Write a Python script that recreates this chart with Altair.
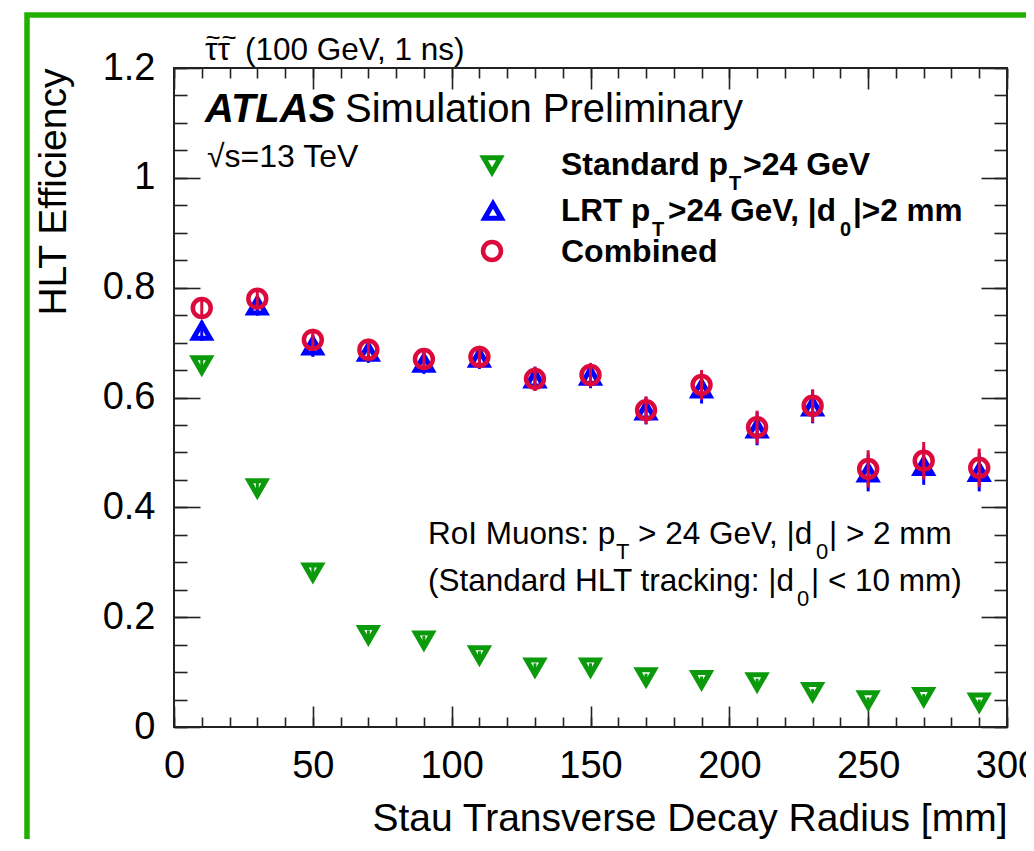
import altair as alt
import pandas as pd

# ---- data ----
radius = [10, 30, 50, 70, 90, 110, 130, 150, 170, 190, 210, 230, 250, 270, 290]
std_eff = [0.659, 0.435, 0.282, 0.168, 0.158, 0.131, 0.109, 0.109, 0.091, 0.086, 0.082, 0.064, 0.049, 0.055, 0.045]
std_err = [0.012, 0.012, 0.010, 0.008, 0.008, 0.007, 0.007, 0.007, 0.006, 0.006, 0.006, 0.005, 0.005, 0.005, 0.005]
lrt_eff = [0.721, 0.767, 0.694, 0.683, 0.663, 0.672, 0.634, 0.639, 0.576, 0.616, 0.543, 0.583, 0.463, 0.475, 0.464]
lrt_err = [0.018, 0.018, 0.020, 0.020, 0.020, 0.020, 0.022, 0.022, 0.025, 0.027, 0.030, 0.030, 0.034, 0.034, 0.035]
comb_eff = [0.763, 0.780, 0.705, 0.687, 0.670, 0.674, 0.634, 0.641, 0.577, 0.623, 0.546, 0.585, 0.470, 0.485, 0.472]
comb_err = [0.018, 0.018, 0.020, 0.020, 0.020, 0.020, 0.022, 0.022, 0.025, 0.027, 0.030, 0.030, 0.034, 0.034, 0.035]

x_major = [0, 50, 100, 150, 200, 250, 300]
x_minor = list(range(0, 301, 10))
y_major = [0, 0.2, 0.4, 0.6, 0.8, 1.0, 1.2]
y_minor = [round(i * 0.05, 2) for i in range(25)]

GREEN = "#0b9a0b"
BLUE = "#0000ff"
RED = "#dc0a3c"
FONT = "Liberation Sans"

W, H = 833, 659
TRI = 280
CIRC = 320
SW_TRI = 5
SW_CIRC = 4.5


def frame(eff, err):
    return pd.DataFrame({
        "r": radius,
        "eff": eff,
        "lo": [e - d for e, d in zip(eff, err)],
        "hi": [e + d for e, d in zip(eff, err)],
    })


d_std = frame(std_eff, std_err)
d_lrt = frame(lrt_eff, lrt_err)
d_comb = frame(comb_eff, comb_err)
one = pd.DataFrame({"k": [0]})

xs = alt.Scale(domain=[0, 300], nice=False, zero=False)
ys = alt.Scale(domain=[0, 1.2], nice=False, zero=False)

common = dict(domain=False, grid=False)

ax_x_main = alt.Axis(orient="bottom", values=x_major, tickSize=21, offset=-21,
                     labelFontSize=38, labelPadding=20, labelFlush=False,
                     labelOverlap=False, labelColor="black", labelFont=FONT,
                     title="Stau Transverse Decay Radius [mm]", titleFontSize=39,
                     titleFont=FONT, titleFontWeight="normal", titleColor="black",
                     titleX=W, titleY=124, titleAlign="right", titleAnchor="end",
                     titleBaseline="alphabetic", **common)
ax_x_minor = alt.Axis(orient="bottom", values=x_minor, tickSize=10, offset=-10,
                      labels=False, title=None, **common)
ax_x_top = alt.Axis(orient="top", values=x_major, tickSize=21, offset=-21,
                    labels=False, title=None, **common)
ax_x_top_minor = alt.Axis(orient="top", values=x_minor, tickSize=10, offset=-10,
                          labels=False, title=None, **common)

ax_y_main = alt.Axis(orient="left", values=y_major, tickSize=26, offset=-26,
                     labelFontSize=38, labelPadding=19, labelFlush=False,
                     labelOverlap=False, format="~g", labelColor="black", labelFont=FONT,
                     title="HLT Efficiency", titleFontSize=39, titleFont=FONT,
                     titleFontWeight="normal", titleColor="black",
                     titleX=-135, titleY=0, titleAngle=270, titleAlign="right",
                     titleBaseline="alphabetic", **common)
ax_y_minor = alt.Axis(orient="left", values=y_minor, tickSize=13, offset=-13,
                      labels=False, title=None, **common)
ax_y_right = alt.Axis(orient="right", values=y_major, tickSize=26, offset=-26,
                      labels=False, title=None, **common)
ax_y_right_minor = alt.Axis(orient="right", values=y_minor, tickSize=13, offset=-13,
                            labels=False, title=None, **common)


def points(df, shape, color, size, sw, xaxis, yaxis):
    return alt.Chart(df).mark_point(shape=shape, filled=False, size=size,
                                    strokeWidth=sw, color=color, opacity=1).encode(
        x=alt.X("r:Q", scale=xs, axis=xaxis),
        y=alt.Y("eff:Q", scale=ys, axis=yaxis),
    )


def errs(df, color, xaxis=None, yaxis=None):
    return alt.Chart(df).mark_rule(strokeWidth=3, color=color).encode(
        x=alt.X("r:Q", scale=xs, axis=xaxis),
        y=alt.Y("lo:Q", scale=ys, axis=yaxis),
        y2="hi:Q",
    )


def txt(s, x, y, size, weight="normal", style="normal", align="left"):
    return alt.Chart(one).mark_text(text=s, align=align, baseline="alphabetic",
                                    fontSize=size, fontWeight=weight, fontStyle=style,
                                    font=FONT, color="black").encode(
        x=alt.value(x), y=alt.value(y))


def sym(shape, color, size, sw, x, y):
    return alt.Chart(one).mark_point(shape=shape, filled=False, size=size,
                                     strokeWidth=sw, color=color, opacity=1).encode(
        x=alt.value(x), y=alt.value(y))


border = alt.Chart(one).mark_rect(fillOpacity=0, stroke="#22b000", strokeWidth=5.5).encode(
    x=alt.value(-147), x2=alt.value(960), y=alt.value(-53), y2=alt.value(860))

layers = [
    border,
    errs(d_std, GREEN),
    points(d_std, "triangle-down", GREEN, TRI, SW_TRI, ax_x_main, ax_y_main),
    errs(d_lrt, BLUE),
    points(d_lrt, "triangle-up", BLUE, TRI, SW_TRI, ax_x_minor, ax_y_minor),
    errs(d_comb, RED, ax_x_top_minor, ax_y_right_minor),
    points(d_comb, "circle", RED, CIRC, SW_CIRC, ax_x_top, ax_y_right),
    # header: stau pair with tildes
    txt("\u03c4\u03c4", 31, -8, 31.5),
    txt("~", 39, -22, 26, align="center"),
    txt("~", 55, -22, 26, align="center"),
    txt("(100 GeV, 1 ns)", 71, -8, 31.5),
    txt("ATLAS", 31, 54, 40, weight="bold", style="italic"),
    txt("Simulation Preliminary", 171, 54, 40),
    txt("\u221as=13 TeV", 33, 99, 32),
    # legend
    sym("triangle-down", GREEN, TRI, SW_TRI, 318, 97),
    sym("triangle-up", BLUE, TRI, SW_TRI, 319, 143),
    sym("circle", RED, CIRC, SW_CIRC, 318, 183),
    txt("Standard p", 387, 107, 32, weight="bold"),
    txt("T", 555, 122, 20, weight="bold"),
    txt(">24 GeV", 569, 107, 32, weight="bold"),
    txt("LRT p", 387, 153, 31.5, weight="bold"),
    txt("T", 478, 168, 20, weight="bold"),
    txt(">24 GeV, |d", 494, 153, 31.5, weight="bold"),
    txt("0", 666, 168, 20, weight="bold"),
    txt("|>2 mm", 679, 153, 31.5, weight="bold"),
    txt("Combined", 387, 194, 32, weight="bold"),
    # selection note
    txt("RoI Muons: p", 254, 476, 31.5),
    txt("T", 442, 491, 22),
    txt("> 24 GeV, |d", 464, 476, 31.5),
    txt("0", 642, 491, 22),
    txt("| > 2 mm", 655, 476, 31.5),
    txt("(Standard HLT tracking: |d", 254, 523, 31.5),
    txt("0", 623, 538, 22),
    txt("| < 10 mm)", 637, 523, 31.5),
]

chart = alt.layer(*layers).resolve_axis(x="independent", y="independent").properties(
    width=W, height=H,
    autosize=alt.AutoSizeParams(type="none"),
    padding={"left": 166, "top": 60, "right": 19, "bottom": 112},
    background="white",
).configure_view(
    stroke="#222222", strokeWidth=2
).configure_axis(
    tickColor="#222222", tickWidth=1.6
)

chart.save("out.html", embed_options={"renderer": "svg", "actions": False})
